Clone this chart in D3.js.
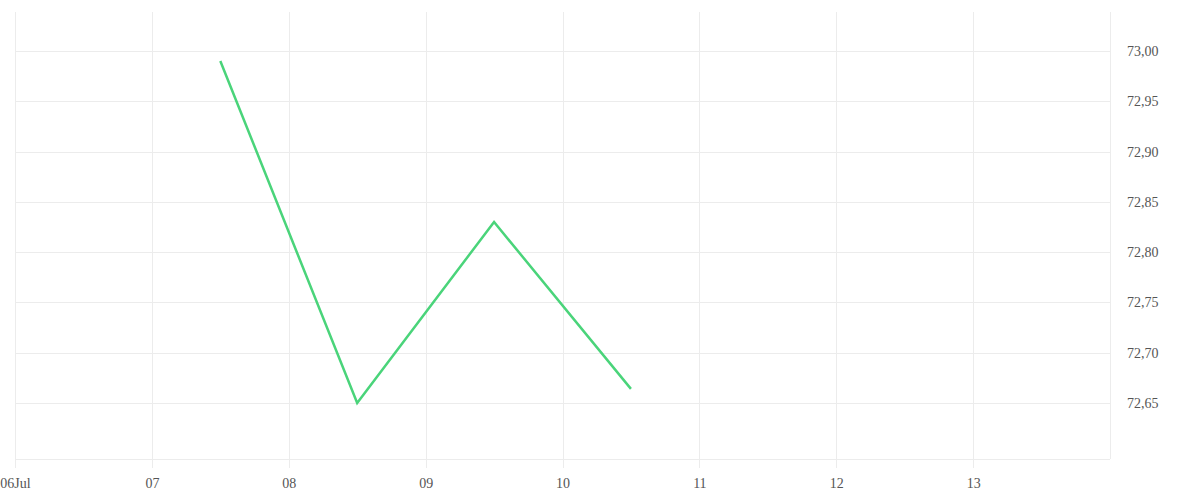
<!DOCTYPE html>
<html><head><meta charset="utf-8">
<script src="https://cdn.jsdelivr.net/npm/d3@7"></script>
<style>
html,body{margin:0;padding:0;background:#fff;}
text{font-family:"Liberation Serif",serif;font-size:14px;fill:#555;}
</style></head>
<body><svg id="c" width="1200" height="500"></svg>
<script>
const dates = ["2024-07-07T12:00","2024-07-08T12:00","2024-07-09T12:00","2024-07-10T12:00"];
const values = [72.99, 72.65, 72.83, 72.664];
const yTicks = [72.65, 72.70, 72.75, 72.80, 72.85, 72.90, 72.95, 73.00];
const xTickLabels = ["06Jul","07","08","09","10","11","12","13"];

(function(){
const parse = d3.utcParse("%Y-%m-%dT%H:%M");
const svg = d3.select("#c");
const mLeft = 15, mRight = 1110, mTop = 12, mBottom = 459;

const x = d3.scaleUtc().domain([Date.UTC(2024,6,6), Date.UTC(2024,6,14)]).range([mLeft, mRight]);
const y = d3.scaleLinear().domain([72.5943, 73.0388]).range([mBottom, mTop]);

const grid = svg.append("g").attr("stroke","#ececec").attr("stroke-width",1).attr("shape-rendering","crispEdges");
const xTicks = d3.utcDay.range(Date.UTC(2024,6,6), Date.UTC(2024,6,14));
grid.selectAll(".v").data(xTicks).join("line")
  .attr("x1",d=>Math.round(x(d))+0.5).attr("x2",d=>Math.round(x(d))+0.5)
  .attr("y1",mTop).attr("y2",mBottom+9);
grid.append("line").attr("x1",mRight+0.5).attr("x2",mRight+0.5).attr("y1",mTop).attr("y2",mBottom);
grid.selectAll(".h").data(yTicks).join("line")
  .attr("x1",mLeft).attr("x2",mRight)
  .attr("y1",d=>Math.round(y(d))+0.5).attr("y2",d=>Math.round(y(d))+0.5);
grid.append("line").attr("x1",mLeft).attr("x2",mRight).attr("y1",mBottom+0.5).attr("y2",mBottom+0.5);

const xAxis = d3.axisBottom(x).tickValues(xTicks).tickSize(0).tickPadding(0)
  .tickFormat((d,i)=>xTickLabels[i]);
const gx = svg.append("g").attr("transform",`translate(0,${mBottom+25})`).call(xAxis);
gx.select(".domain").remove();
gx.selectAll("text").attr("dy","0.32em").style("font-family","'Liberation Serif',serif").style("font-size","14px").attr("fill","#555");

const yAxis = d3.axisRight(y).tickValues(yTicks).tickSize(0).tickPadding(0)
  .tickFormat(d=>d3.format(".2f")(d).replace(".",","));
const gy = svg.append("g").attr("transform",`translate(1127,0)`).call(yAxis);
gy.select(".domain").remove();
gy.selectAll("text").style("font-family","'Liberation Serif',serif").style("font-size","14px").attr("fill","#555");

const data = dates.map((d,i)=>({d:parse(d), v:values[i]}));
const line = d3.line().x(d=>x(d.d)).y(d=>y(d.v));
svg.append("path").datum(data).attr("d",line)
  .attr("fill","none").attr("stroke","#4ad47a").attr("stroke-width",2.5);
})();
</script></body></html>
